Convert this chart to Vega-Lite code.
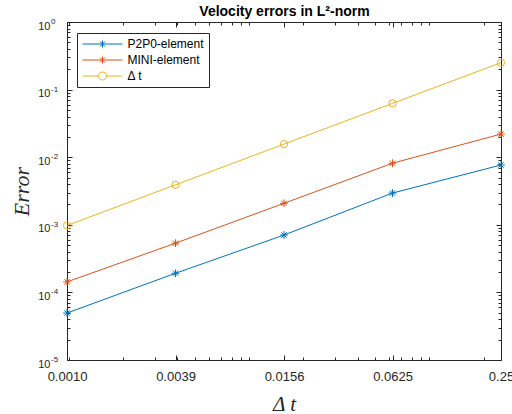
{
  "$schema": "https://vega.github.io/schema/vega-lite/v6.json",
  "width": 434,
  "height": 338,
  "autosize": {"type": "none"},
  "padding": {"left": 67, "top": 22, "right": 11, "bottom": 54},
  "background": "white",
  "data": {"values": [
    {"dt": 0.0009765625, "err": 4.95e-5, "series": "P2P0-element"},
    {"dt": 0.00390625, "err": 1.92e-4, "series": "P2P0-element"},
    {"dt": 0.015625, "err": 7.06e-4, "series": "P2P0-element"},
    {"dt": 0.0625, "err": 2.95e-3, "series": "P2P0-element"},
    {"dt": 0.25, "err": 7.67e-3, "series": "P2P0-element"},
    {"dt": 0.0009765625, "err": 1.43e-4, "series": "MINI-element"},
    {"dt": 0.00390625, "err": 5.35e-4, "series": "MINI-element"},
    {"dt": 0.015625, "err": 2.08e-3, "series": "MINI-element"},
    {"dt": 0.0625, "err": 8.15e-3, "series": "MINI-element"},
    {"dt": 0.25, "err": 2.2e-2, "series": "MINI-element"},
    {"dt": 0.0009765625, "err": 0.0009765625, "series": "Δ t"},
    {"dt": 0.00390625, "err": 0.00390625, "series": "Δ t"},
    {"dt": 0.015625, "err": 0.015625, "series": "Δ t"},
    {"dt": 0.0625, "err": 0.0625, "series": "Δ t"},
    {"dt": 0.25, "err": 0.25, "series": "Δ t"}
  ]},
  "layer": [
    {
      "mark": {"type": "line", "strokeWidth": 1},
      "encoding": {
        "x": {"field": "dt", "type": "quantitative", "scale": {"type": "log", "domain": [0.0009765625, 0.25], "nice": false},
          "axis": {"orient": "bottom", "values": [0.0009765625, 0.00390625, 0.015625, 0.0625, 0.25], "ticks": false, "labelFontSize": 13, "labelBaseline": "alphabetic", "labelPadding": 20, "labelAlign": "center",
            "labelExpr": "datum.value < 0.002 ? '0.0010' : datum.value < 0.005 ? '0.0039' : datum.value < 0.02 ? '0.0156' : datum.value < 0.1 ? '0.0625' : '0.25'",
            "title": "Δ t", "titleFontSize": 21, "titleX": 217, "titleY": 50, "titleBaseline": "alphabetic", "titleAlign": "center"}},
        "y": {"field": "err", "type": "quantitative", "scale": {"type": "log", "domain": [0.00001, 1], "nice": false},
          "axis": {"orient": "left", "values": [0.00001, 0.0001, 0.001, 0.01, 0.1, 1], "ticks": false, "labelFontSize": 11, "labelAlign": "right", "labelBaseline": "alphabetic", "labelOffset": 7, "labelPadding": 17, "labelExpr": "'10'",
            "title": "Error", "titleFontSize": 22, "titleX": -39, "titleY": 169, "titleAngle": -90, "titleBaseline": "alphabetic", "titleAlign": "center"}},
        "color": {"field": "series", "type": "nominal",
          "scale": {"domain": ["P2P0-element", "MINI-element", "Δ t"], "range": ["#0072BD", "#D95319", "#EDB120"]},
          "legend": {"title": null, "orient": "none", "legendX": 10, "legendY": 11, "direction": "vertical", "strokeColor": "#262626", "fillColor": "white", "padding": 5, "rowPadding": 4, "labelFont": "Liberation Sans", "labelFontSize": 12, "labelColor": "#000000", "symbolSize": 100, "symbolStrokeWidth": 1, "symbolOffset": 14.5, "labelOffset": 19, "labelBaseline": "middle",
            "encode": {"symbols": {"update": {"shape": {"signal": "datum.value === 'Δ t' ? 'M-4,0L-0.8,0M0.8,0L4,0M0.8,0A0.8,0.8,0,1,1,-0.8,0A0.8,0.8,0,1,1,0.8,0' : 'M-4,0L4,0M0,-0.7L0,0.7M-0.5,-0.5L0.5,0.5M-0.5,0.5L0.5,-0.5'"}, "fill": {"value": "transparent"}}}}}}
      }
    },
    {
      "transform": [{"filter": "datum.series !== 'Δ t'"}],
      "mark": {"type": "point", "filled": false, "strokeWidth": 1, "size": 60, "opacity": 1, "shape": "M-1,0L1,0M0,-1L0,1M-0.7,-0.7L0.7,0.7M-0.7,0.7L0.7,-0.7"},
      "encoding": {
        "x": {"field": "dt", "type": "quantitative", "scale": {"type": "log", "domain": [0.0009765625, 0.25], "nice": false},
          "axis": {"orient": "bottom", "values": [0.0009765625, 0.00390625, 0.015625, 0.0625, 0.25], "labels": false, "tickSize": -5, "title": null}},
        "y": {"field": "err", "type": "quantitative", "scale": {"type": "log", "domain": [0.00001, 1], "nice": false},
          "axis": {"orient": "left", "values": [0.00001, 0.0001, 0.001, 0.01, 0.1, 1], "ticks": false, "labelFontSize": 8, "labelAlign": "left", "labelBaseline": "alphabetic", "labelOffset": 1.5, "labelPadding": 16.5, "labelExpr": "'' + round(log(datum.value) / LN10)", "title": null}},
        "color": {"field": "series", "type": "nominal", "scale": {"domain": ["P2P0-element", "MINI-element", "Δ t"], "range": ["#0072BD", "#D95319", "#EDB120"]}}
      }
    },
    {
      "transform": [{"filter": "datum.series === 'Δ t'"}],
      "mark": {"type": "point", "filled": false, "strokeWidth": 1, "size": 52, "opacity": 1, "shape": "circle"},
      "encoding": {
        "x": {"field": "dt", "type": "quantitative", "scale": {"type": "log", "domain": [0.0009765625, 0.25], "nice": false},
          "axis": {"orient": "bottom", "values": [0.001, 0.002, 0.003, 0.004, 0.005, 0.006, 0.007, 0.008, 0.009, 0.01, 0.02, 0.03, 0.04, 0.05, 0.06, 0.07, 0.08, 0.09, 0.1, 0.2], "labels": false, "tickSize": -3, "title": null}},
        "y": {"field": "err", "type": "quantitative", "scale": {"type": "log", "domain": [0.00001, 1], "nice": false},
          "axis": {"orient": "left", "values": [0.00001, 0.0001, 0.001, 0.01, 0.1, 1], "labels": false, "tickSize": -5, "title": null}},
        "color": {"field": "series", "type": "nominal", "scale": {"domain": ["P2P0-element", "MINI-element", "Δ t"], "range": ["#0072BD", "#D95319", "#EDB120"]}}
      }
    },
    {
      "mark": {"type": "point", "opacity": 0},
      "encoding": {
        "x": {"field": "dt", "type": "quantitative", "scale": {"type": "log", "domain": [0.0009765625, 0.25], "nice": false},
          "axis": {"orient": "top", "values": [0.0009765625, 0.00390625, 0.015625, 0.0625, 0.25], "labels": false, "tickSize": -5,
            "title": "Velocity errors in L²-norm", "titleFont": "Liberation Sans", "titleFontSize": 14, "titleFontWeight": "bold", "titleFontStyle": "normal", "titleColor": "#000000", "titleX": 217, "titleY": -7, "titleBaseline": "alphabetic", "titleAlign": "center"}},
        "y": {"field": "err", "type": "quantitative", "scale": {"type": "log", "domain": [0.00001, 1], "nice": false},
          "axis": {"orient": "left", "values": [0.00002, 0.00003, 0.00004, 0.00005, 0.00006, 0.00007, 0.00008, 0.00009, 0.0002, 0.0003, 0.0004, 0.0005, 0.0006, 0.0007, 0.0008, 0.0009, 0.002, 0.003, 0.004, 0.005, 0.006, 0.007, 0.008, 0.009, 0.02, 0.03, 0.04, 0.05, 0.06, 0.07, 0.08, 0.09, 0.2, 0.3, 0.4, 0.5, 0.6, 0.7, 0.8, 0.9], "labels": false, "tickSize": -3, "title": null}}
      }
    },
    {
      "mark": {"type": "point", "opacity": 0},
      "encoding": {
        "x": {"field": "dt", "type": "quantitative", "scale": {"type": "log", "domain": [0.0009765625, 0.25], "nice": false},
          "axis": {"orient": "top", "values": [0.001, 0.002, 0.003, 0.004, 0.005, 0.006, 0.007, 0.008, 0.009, 0.01, 0.02, 0.03, 0.04, 0.05, 0.06, 0.07, 0.08, 0.09, 0.1, 0.2], "labels": false, "tickSize": -3, "title": null}},
        "y": {"field": "err", "type": "quantitative", "scale": {"type": "log", "domain": [0.00001, 1], "nice": false},
          "axis": {"orient": "right", "values": [0.00001, 0.0001, 0.001, 0.01, 0.1, 1], "labels": false, "tickSize": -5, "title": null}}
      }
    },
    {
      "mark": {"type": "point", "opacity": 0},
      "encoding": {
        "x": {"field": "dt", "type": "quantitative", "scale": {"type": "log", "domain": [0.0009765625, 0.25], "nice": false}, "axis": null},
        "y": {"field": "err", "type": "quantitative", "scale": {"type": "log", "domain": [0.00001, 1], "nice": false},
          "axis": {"orient": "right", "values": [0.00002, 0.00003, 0.00004, 0.00005, 0.00006, 0.00007, 0.00008, 0.00009, 0.0002, 0.0003, 0.0004, 0.0005, 0.0006, 0.0007, 0.0008, 0.0009, 0.002, 0.003, 0.004, 0.005, 0.006, 0.007, 0.008, 0.009, 0.02, 0.03, 0.04, 0.05, 0.06, 0.07, 0.08, 0.09, 0.2, 0.3, 0.4, 0.5, 0.6, 0.7, 0.8, 0.9], "labels": false, "tickSize": -3, "title": null}}
      }
    }
  ],
  "resolve": {"axis": {"x": "independent", "y": "independent"}},
  "config": {
    "view": {"stroke": "#262626", "strokeWidth": 1},
    "axis": {"grid": false, "domain": false, "labelFont": "Liberation Sans", "labelColor": "#262626", "tickColor": "#262626", "tickWidth": 1, "titleFont": "Liberation Serif", "titleFontStyle": "italic", "titleFontWeight": "normal", "titleColor": "#262626", "labelOverlap": false, "labelBound": false, "labelFlush": false}
  }
}
